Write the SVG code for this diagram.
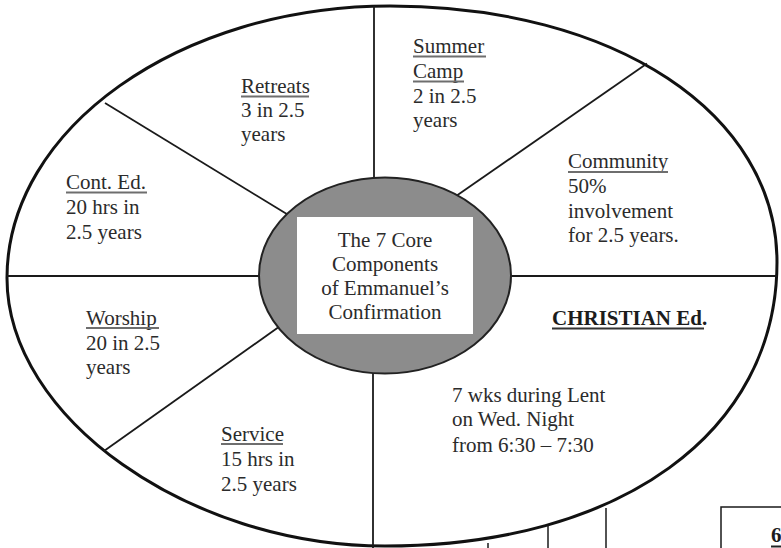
<svg xmlns="http://www.w3.org/2000/svg" width="781" height="548" viewBox="0 0 781 548">
<style>
.t{font-family:"Liberation Serif","Times New Roman",serif;font-size:21px;fill:#2b2b2b}
.c{text-anchor:middle}
.b{font-weight:bold;fill:#1c1c1c}
.ul{stroke:#6e6e6e;stroke-width:2}
.sp{stroke:#1a1a1a;stroke-width:1.8;fill:none}
</style>
<rect width="781" height="548" fill="#fff"/>
<g id="outer">
<path d="M390,6 C614.5,6 777,113.5 777,262 C777,432.4 620.2,546 385,546 C188.4,546 7,417.4 7,278 C7,128.4 179.4,6 390,6 Z" fill="#fff" stroke="#111" stroke-width="3"/>
</g>
<g id="connectors" class="sp">
<line x1="374" y1="6" x2="374" y2="200"/>
<line x1="647" y1="63.6" x2="450" y2="200.3"/>
<line x1="105" y1="103" x2="295" y2="219"/>
<line x1="7" y1="276" x2="280" y2="276"/>
<line x1="495" y1="276" x2="777" y2="276"/>
<line x1="104" y1="451" x2="290" y2="319"/>
<line x1="373" y1="350" x2="373" y2="548"/>
</g>
<g id="center">
<ellipse cx="385" cy="275.5" rx="126" ry="98" fill="#8c8c8c" stroke="#222" stroke-width="2"/>
<rect x="297" y="217" width="176" height="117" fill="#fff"/>
<text class="t c" x="385" y="247">The 7 Core</text>
<text class="t c" x="385" y="271">Components</text>
<text class="t c" x="385" y="295">of Emmanuel’s</text>
<text class="t c" x="385" y="319">Confirmation</text>
</g>
<g id="retreats">
<text class="t" x="241" y="93">Retreats</text>
<line class="ul" x1="241" y1="96.5" x2="309" y2="96.5"/>
<text class="t" x="241" y="117">3 in 2.5</text>
<text class="t" x="241" y="141">years</text>
</g>
<g id="summer-camp">
<text class="t" x="413" y="53">Summer</text>
<line class="ul" x1="413" y1="56.5" x2="486" y2="56.5"/>
<text class="t" x="413" y="78">Camp</text>
<line class="ul" x1="413" y1="81.5" x2="464" y2="81.5"/>
<text class="t" x="413" y="103">2 in 2.5</text>
<text class="t" x="413" y="127">years</text>
</g>
<g id="community">
<text class="t" x="568" y="168">Community</text>
<line class="ul" x1="568" y1="172" x2="668" y2="172"/>
<text class="t" x="568" y="193">50%</text>
<text class="t" x="568" y="218">involvement</text>
<text class="t" x="568" y="242">for 2.5 years.</text>
</g>
<g id="cont-ed">
<text class="t" x="66" y="189">Cont. Ed.</text>
<line class="ul" x1="66" y1="192.5" x2="147" y2="192.5"/>
<text class="t" x="66" y="214">20 hrs in</text>
<text class="t" x="66" y="239">2.5 years</text>
</g>
<g id="christian-ed">
<text class="t b" x="552" y="325">CHRISTIAN Ed.</text>
<line x1="552" y1="328.5" x2="704" y2="328.5" stroke="#333" stroke-width="2"/>
<text class="t" x="452" y="402">7 wks during Lent</text>
<text class="t" x="452" y="426">on Wed. Night</text>
<text class="t" x="452" y="452">from 6:30 – 7:30</text>
</g>
<g id="worship">
<text class="t" x="86" y="325">Worship</text>
<line class="ul" x1="86" y1="328" x2="159" y2="328"/>
<text class="t" x="86" y="350">20 in 2.5</text>
<text class="t" x="86" y="374">years</text>
</g>
<g id="service">
<text class="t" x="221" y="441">Service</text>
<line class="ul" x1="221" y1="444" x2="283" y2="444"/>
<text class="t" x="221" y="466">15 hrs in</text>
<text class="t" x="221" y="491">2.5 years</text>
</g>
<g id="fragments" fill="none" stroke="#1a1a1a" stroke-width="1.5">
<line x1="548" y1="525" x2="548" y2="548"/>
<line x1="606" y1="508" x2="606" y2="548"/>
<path d="M721,548 V507 H781"/>
<line x1="488" y1="543" x2="488" y2="548"/>
</g>
<g id="page-num">
<text class="t b" x="771" y="542">6</text>
<line x1="771" y1="546.5" x2="781" y2="546.5" stroke="#222" stroke-width="2"/>
</g>
</svg>
